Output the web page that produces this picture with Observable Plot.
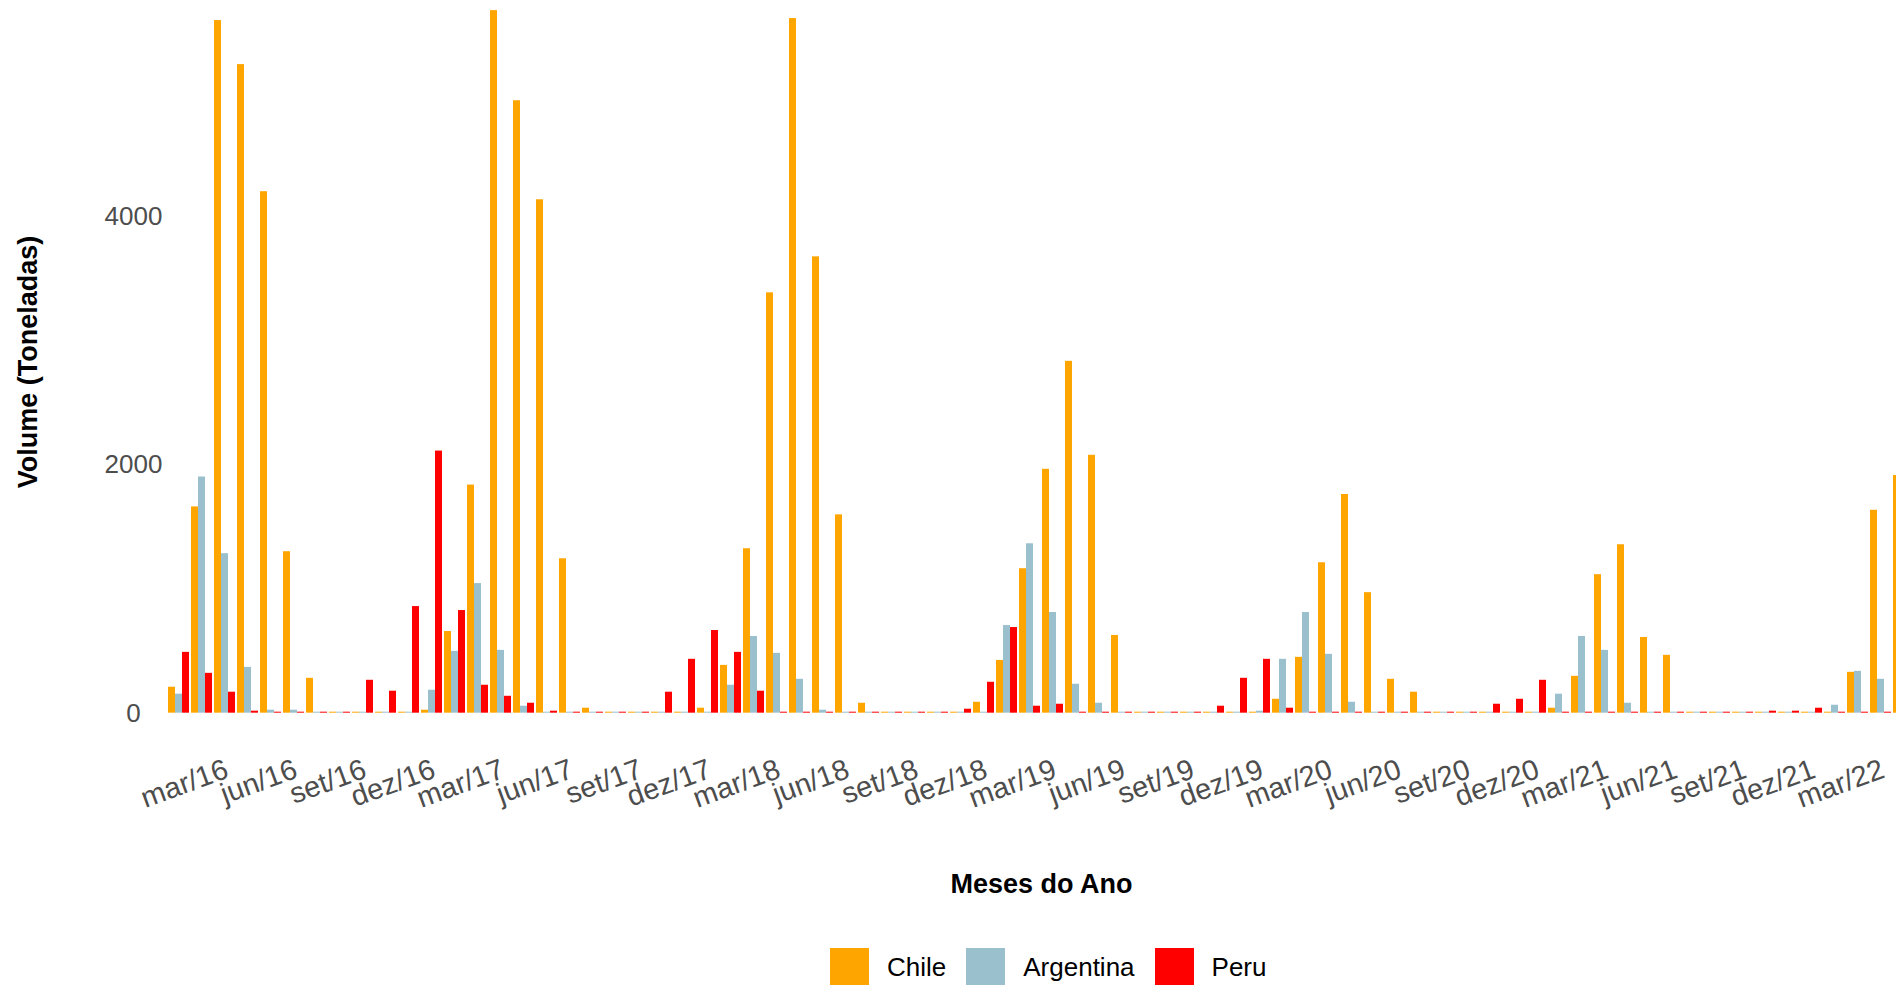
<!DOCTYPE html>
<html>
<head>
<meta charset="utf-8">
<script src="https://cdn.jsdelivr.net/npm/d3@7"></script>
<script src="https://cdn.jsdelivr.net/npm/@observablehq/plot@0.6"></script>
<style>
  html, body { margin: 0; padding: 0; background: #fff; overflow: hidden; width: 1896px; height: 985px; }
  #chart svg { display: block; margin-top: -25px; max-width: none !important; overflow: hidden; }
  #legend { margin-left: 830px; margin-top: 48px; }
  #legend, #legend * { font-family: 'Liberation Sans', Arial, Helvetica, sans-serif !important; font-size: 26px !important; color: #000; }
  #legend span { margin-right: 20px !important; }
  #legend span > svg { margin-right: 18px !important; }
  g[aria-label$="axis label"] text, g[aria-label$="axis label"] { font-weight: bold; fill: #000; }
</style>
</head>
<body>
<div id="chart"></div>
<div id="legend"></div>
<script>
// Categories
const paises = ["Chile", "Argentina", "Peru"];
const cores = ["#FFA500", "#9AC0CD", "#FF0000"];
const mesesNomes = ["jan", "fev", "mar", "abr", "mai", "jun", "jul", "ago", "set", "out", "nov", "dez"];
const anos = ["16", "17", "18", "19", "20", "21", "22"];
const ultimoMes = "abr/22";

// Tick labels shown on the x axis
const ticksX = ["mar/16", "jun/16", "set/16", "dez/16", "mar/17", "jun/17", "set/17", "dez/17",
  "mar/18", "jun/18", "set/18", "dez/18", "mar/19", "jun/19", "set/19", "dez/19",
  "mar/20", "jun/20", "set/20", "dez/20", "mar/21", "jun/21", "set/21", "dez/21", "mar/22"];
const ticksY = [0, 2000, 4000];

// Series values (tons), jan/16 .. abr/22
const chile = [209, 1662, 5581, 5226, 4202, 1301, 281, 8, 8, 8, 8, 24,
  658, 1838, 5661, 4935, 4137, 1244, 40, 8, 8, 8, 8, 40,
  385, 1325, 3387, 5597, 3677, 1598, 80, 8, 8, 8, 8, 88,
  425, 1164, 1965, 2835, 2078, 626, 8, 8, 8, 8, 8, 8,
  112, 450, 1212, 1762, 971, 273, 169, 8, 8, 8, 8, 8,
  40, 297, 1116, 1357, 610, 466, 8, 8, 8, 8, 8, 8,
  8, 329, 1635, 1915];
const argentina = [153, 1903, 1285, 369, 24, 24, 8, 8, 8, 8, 8, 185,
  498, 1044, 506, 56, 8, 8, 8, 8, 8, 8, 8, 8,
  225, 618, 482, 273, 24, 8, 8, 8, 8, 8, 8, 8,
  706, 1365, 811, 233, 80, 8, 8, 8, 8, 8, 8, 16,
  434, 811, 474, 88, 8, 8, 8, 8, 8, 8, 8, 8,
  153, 618, 506, 80, 8, 8, 8, 8, 8, 8, 8, 8,
  64, 337, 273, 80];
const peru = [490, 321, 169, 16, 8, 8, 8, 8, 265, 177, 859, 2112,
  827, 225, 136, 80, 16, 8, 8, 8, 8, 169, 434, 666,
  490, 177, 8, 8, 8, 8, 8, 8, 8, 8, 32, 249,
  690, 56, 72, 8, 8, 8, 8, 8, 8, 56, 281, 434,
  40, 8, 8, 8, 8, 8, 8, 8, 8, 72, 112, 265,
  8, 8, 8, 8, 8, 8, 8, 8, 8, 16, 16, 40,
  8, 8, 8, 8];

// month categories
const meses = [];
outer: for (const a of anos) {
  for (const m of mesesNomes) {
    const lab = m + "/" + a;
    meses.push(lab);
    if (lab === ultimoMes) break outer;
  }
}

const series = {Chile: chile, Argentina: argentina, Peru: peru};
const rows = meses.flatMap((m, i) => paises.map(p => ({mes: m, pais: p, volume: series[p][i]})));

const font = "'Liberation Sans', Arial, Helvetica, sans-serif";
const maxV = d3.max(rows, d => d.volume);
const pad = maxV * 0.05;

const chart = Plot.plot({
  width: 1914,
  height: 925,
  marginLeft: 168,
  marginRight: 0,
  marginTop: 0,
  marginBottom: 152.2,
  style: {fontFamily: font, fontSize: "26px", background: "#fff"},
  fx: {domain: meses, padding: 0.1, axis: null, label: null},
  x: {domain: paises, padding: 0, axis: null},
  y: {domain: [-pad, maxV + pad], axis: null},
  color: {domain: paises, range: cores},
  marks: [
    Plot.barY(rows, {fx: "mes", x: "pais", y1: 0, y2: "volume", fill: "pais"}),
    Plot.axisY(ticksY, {
      tickSize: 0, tickPadding: 35, textAnchor: "middle", fontSize: 26,
      fill: "#4D4D4D", color: "#4D4D4D", tickFormat: d3.format("d"), label: null
    }),
    Plot.axisY([], {
      tickSize: 0, fontSize: 27, fill: "#000",
      label: "Volume (Toneladas)", labelAnchor: "center", labelOffset: 151, labelArrow: false
    }),
    Plot.axisFx({
      anchor: "bottom", tickSize: 0, tickPadding: 20, tickRotate: -20, dx: 2,
      textAnchor: "end", fontSize: 29, fill: "#4D4D4D", color: "#4D4D4D",
      tickFormat: d => ticksX.includes(d) ? d : null, label: null
    }),
    Plot.axisFx({
      anchor: "bottom", tickSize: 0, fontSize: 27, tickFormat: () => null,
      label: "Meses do Ano", labelAnchor: "center", labelOffset: 145, labelArrow: false, fill: "#000"
    })
  ]
});
document.getElementById("chart").appendChild(chart);

const leg = Plot.legend({
  color: {domain: paises, range: cores},
  legend: "swatches",
  swatchSize: 39,
  className: "lg",
  style: {fontFamily: font, fontSize: "26px", color: "#000"}
});
document.getElementById("legend").appendChild(leg);
</script>
</body>
</html>
